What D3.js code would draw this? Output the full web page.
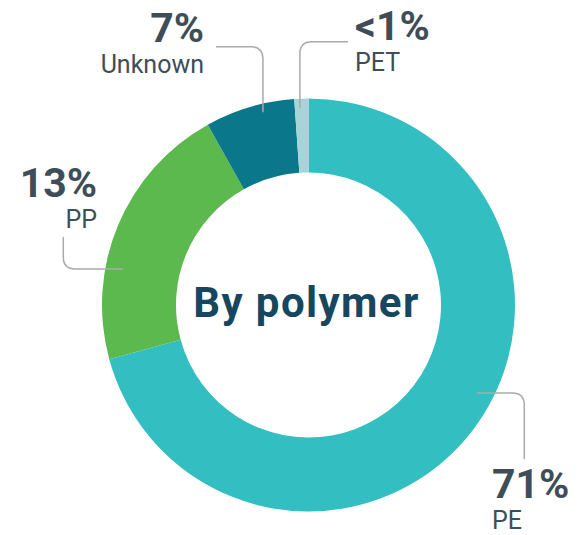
<!DOCTYPE html>
<html>
<head>
<meta charset="utf-8">
<script src="https://cdn.jsdelivr.net/npm/d3@7"></script>
<style>
  body { margin: 0; background: #fff; }
  text { font-family: Roboto, "Noto Sans", sans-serif; }
</style>
</head>
<body>
<div id="chart"></div>
<script>
// slice sizes as drawn (clockwise from 12 o'clock)
var categories = ["PE", "PP", "Unknown", "PET"];
var shares = [70.7, 21.1, 7.0, 1.1];
var pctLabels = ["71%", "13%", "7%", "<1%"];
var colors = ["#33bec2", "#5bb94d", "#0a778a", "#a6d4d9"];

var width = 585, height = 535;
var cx = 308.5, cy = 305;
var outerR = 206.5, innerR = 132.5;

// leader + label layout per category
var layout = {
  PE:      {angle: 117.6, r: 190, first: "h", c: 524.3, end: 459.3, tx: 492, ty: 498, anchor: "start"},
  PP:      {angle: -79,   r: 189, first: "h", c: 63.3,  end: 237,   tx: 97,  ty: 197, anchor: "end"},
  Unknown: {angle: -13.3, r: 198, first: "v", c: 46.7,  end: 216,   tx: 204, ty: 42,  anchor: "end"},
  PET:     {angle: -2.5,  r: 197, first: "v", c: 41.7,  end: 348,   tx: 355, ty: 40,  anchor: "start"}
};

var svg = d3.select("#chart").append("svg")
    .attr("width", width)
    .attr("height", height);

var g = svg.append("g")
    .attr("transform", "translate(" + cx + "," + cy + ")");

var data = categories.map(function(c, i) { return {name: c, value: shares[i], label: pctLabels[i], color: colors[i]}; });

var pie = d3.pie().sort(null).value(function(d) { return d.value; });
var arc = d3.arc().innerRadius(innerR).outerRadius(outerR);

g.selectAll("path.slice")
  .data(pie(data))
  .enter().append("path")
    .attr("class", "slice")
    .attr("d", arc)
    .attr("fill", function(d) { return d.data.color; });

// leader lines with rounded elbows
function leader(L) {
  var p = d3.pointRadial(L.angle * Math.PI / 180, L.r);
  var s = [p[0] + cx, p[1] + cy], k, e;
  if (L.first == "h") { k = [L.c, s[1]]; e = [L.c, L.end]; }
  else { k = [s[0], L.c]; e = [L.end, L.c]; }
  var rr = 12;
  var d1 = [Math.sign(k[0] - s[0]), Math.sign(k[1] - s[1])];
  var d2 = [Math.sign(e[0] - k[0]), Math.sign(e[1] - k[1])];
  var a = [k[0] - d1[0] * rr, k[1] - d1[1] * rr];
  var b = [k[0] + d2[0] * rr, k[1] + d2[1] * rr];
  return "M" + s + "L" + a + "Q" + k + " " + b + "L" + e;
}

var labels = svg.append("g").selectAll("g")
  .data(data)
  .enter().append("g");

labels.append("path")
    .attr("d", function(d) { return leader(layout[d.name]); })
    .attr("fill", "none")
    .attr("stroke", "#aaaaaa")
    .attr("stroke-width", 1.5);

labels.append("text")
    .attr("x", function(d) { return layout[d.name].tx; })
    .attr("y", function(d) { return layout[d.name].ty; })
    .attr("text-anchor", function(d) { return layout[d.name].anchor; })
    .attr("font-size", 41)
    .attr("font-weight", "bold")
    .attr("fill", "#3e4e58")
    .text(function(d) { return d.label; });

labels.append("text")
    .attr("x", function(d) { return layout[d.name].tx; })
    .attr("y", function(d) { return layout[d.name].ty + 31; })
    .attr("text-anchor", function(d) { return layout[d.name].anchor; })
    .attr("font-size", 25)
    .attr("fill", "#3e4e58")
    .text(function(d) { return d.name; });

svg.append("text")
    .attr("x", cx - 2)
    .attr("y", 317)
    .attr("text-anchor", "middle")
    .attr("font-size", 42)
    .attr("font-weight", "bold")
    .attr("letter-spacing", 1.4)
    .attr("fill", "#17475f")
    .text("By polymer");
</script>
</body>
</html>
